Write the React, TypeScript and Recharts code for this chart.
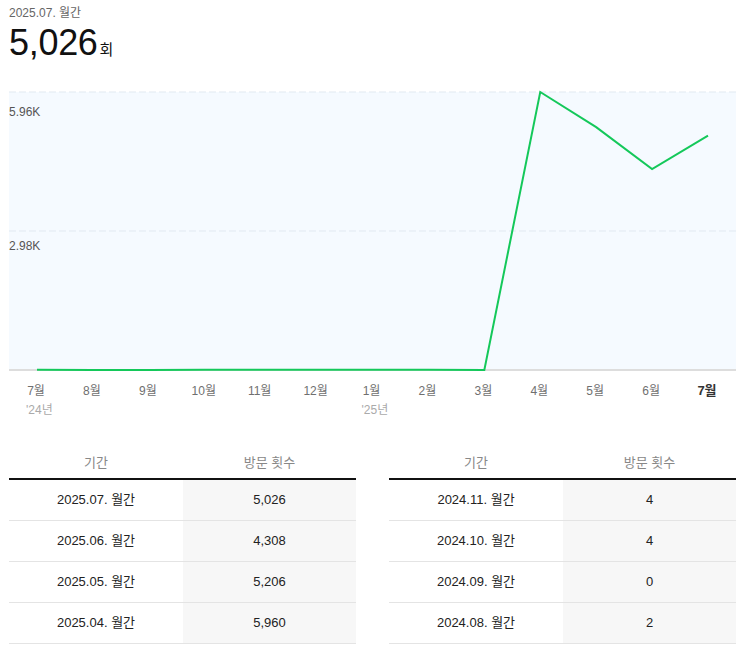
import React from 'react';
import { LineChart, Line, XAxis, YAxis, CartesianGrid } from 'recharts';

const periods = ['2024.07.', '2024.08.', '2024.09.', '2024.10.', '2024.11.', '2024.12.', '2025.01.', '2025.02.', '2025.03.', '2025.04.', '2025.05.', '2025.06.', '2025.07.'];
const months = ['7월', '8월', '9월', '10월', '11월', '12월', '1월', '2월', '3월', '4월', '5월', '6월', '7월'];
const yearLabels = ["'24년", '', '', '', '', '', "'25년", '', '', '', '', '', ''];
const visits = [3, 2, 0, 4, 4, 6, 8, 8, 0, 5960, 5206, 4308, 5026];
const yTicks = [0, 2980, 5960];
const yTickLabels = ['', '2.98K', '5.96K'];
const periodSuffix = '월간';
const unitLabel = '회';
const colPeriod = '기간';
const colVisits = '방문 횟수';

const data = months.map((m, i) => ({ month: m, year: yearLabels[i], visits: visits[i], idx: i }));

const FONT = '"Liberation Sans", Arial, "Noto Sans CJK KR", sans-serif';
const fmt = (n: number) => n.toLocaleString('en-US');

const PLOT_TOP = 4;
const PLOT_H = 278;

const XTick = (props: any) => {
  const { x, payload } = props;
  const i = payload.index;
  const last = i === months.length - 1;
  const base = PLOT_TOP + PLOT_H;
  return (
    <g>
      <text
        x={x - 1}
        y={base + 25}
        textAnchor="middle"
        fontSize={last ? 13 : 12}
        fontWeight={last ? 700 : 400}
        fill={last ? '#333' : '#6f6f6f'}
        fontFamily={FONT}
      >
        {months[i]}
      </text>
      {yearLabels[i] ? (
        <text x={x - 11} y={base + 44} textAnchor="start" fontSize={12} fill="#aaa" fontFamily={FONT}>
          {yearLabels[i]}
        </text>
      ) : null}
    </g>
  );
};

const YTick = (props: any) => {
  const { y, payload } = props;
  const k = yTicks.indexOf(payload.value);
  const label = k >= 0 ? yTickLabels[k] : '';
  if (!label) return <g />;
  return (
    <text x={1} y={y + 19} textAnchor="start" fontSize={12} fill="#555" fontFamily={FONT}>
      {label}
    </text>
  );
};

const Table = ({ rows, left }: { rows: number[]; left: number }) => (
  <div style={{ position: 'absolute', left, top: 447, width: 347, fontFamily: FONT }}>
    <div style={{ display: 'flex', height: 31, borderBottom: '2px solid #111', color: '#888', fontSize: 13 }}>
      <div style={{ width: 174, textAlign: 'center', lineHeight: '31px' }}>{colPeriod}</div>
      <div style={{ width: 173, textAlign: 'center', lineHeight: '31px' }}>{colVisits}</div>
    </div>
    {rows.map((r) => (
      <div key={r} style={{ display: 'flex', height: 40, borderBottom: '1px solid #e4e4e4', color: '#222', fontSize: 13 }}>
        <div style={{ width: 174, textAlign: 'center', lineHeight: '40px' }}>
          {periods[r]} {periodSuffix}
        </div>
        <div style={{ width: 173, textAlign: 'center', lineHeight: '40px', background: '#f7f7f7' }}>{fmt(visits[r])}</div>
      </div>
    ))}
  </div>
);

export default function App() {
  const lastIdx = visits.length - 1;
  return (
    <div style={{ position: 'absolute', left: 0, top: 0, width: 743, height: 647, overflow: 'hidden', background: '#fff', fontFamily: FONT }}>
      <div style={{ position: 'absolute', left: 9, top: 5, fontSize: 12, color: '#666', lineHeight: '16px' }}>
        {periods[lastIdx]} {periodSuffix}
      </div>
      <div style={{ position: 'absolute', left: 9, top: 22, whiteSpace: 'nowrap', color: '#111' }}>
        <span style={{ fontSize: 36, lineHeight: '42px', letterSpacing: '-0.3px' }}>{fmt(visits[lastIdx])}</span>
        <span style={{ fontSize: 15, marginLeft: 2 }}>{unitLabel}</span>
      </div>
      <div style={{ position: 'absolute', left: 8, top: 92 - PLOT_TOP }}>
        <LineChart width={728} height={PLOT_TOP + PLOT_H + 50} data={data} margin={{ top: PLOT_TOP, right: 0, left: 0, bottom: 0 }}>
          <CartesianGrid vertical={false} stroke="#e1e9f1" strokeDasharray="7 3" fill="#f5faff" />
          <CartesianGrid vertical={false} horizontalValues={[0]} stroke="#dddddd" strokeWidth={2} />
          <XAxis
            dataKey="idx"
            type="category"
            height={50}
            padding={{ left: 28, right: 28 }}
            tickLine={false}
            axisLine={false}
            tick={<XTick />}
            interval={0}
          />
          <YAxis width={1} domain={[0, 5960]} ticks={yTicks} axisLine={false} tickLine={false} tick={<YTick />} />
          <Line type="linear" dataKey="visits" stroke="#14c85a" strokeWidth={2} dot={false} activeDot={false} isAnimationActive={false} />
        </LineChart>
      </div>
      <Table rows={[12, 11, 10, 9]} left={9} />
      <Table rows={[4, 3, 2, 1]} left={389} />
    </div>
  );
}
